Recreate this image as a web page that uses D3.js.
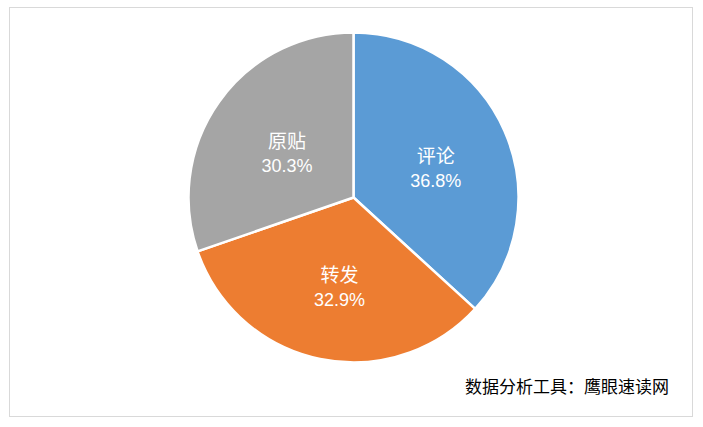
<!DOCTYPE html>
<html><head><meta charset="utf-8">
<script src="https://cdn.jsdelivr.net/npm/d3@7"></script>
<style>
html,body{margin:0;padding:0;background:#fff;}
svg{display:block;}
</style></head>
<body>
<svg id="chart" width="703" height="427"></svg>
<script>
const categories = ["评论", "转发", "原贴"];
const values = [36.8, 32.9, 30.3];
const colors = ["#5B9BD5", "#ED7D31", "#A5A5A5"];
const footnote = "数据分析工具：鹰眼速读网";

const svg = d3.select("#chart");
svg.append("rect").attr("x", 9.5).attr("y", 7.5).attr("width", 683).attr("height", 409)
  .attr("fill", "#fff").attr("stroke", "#d9d9d9").attr("stroke-width", 1);

const cx = 353.5, cy = 197.5, r = 165;
const g = svg.append("g").attr("transform", `translate(${cx},${cy})`);
const pie = d3.pie().sort(null).value(d => d)(values);
const arc = d3.arc().innerRadius(0).outerRadius(r);
g.selectAll("path").data(pie).join("path")
  .attr("d", arc)
  .attr("fill", (d, i) => colors[i])
  .attr("stroke", "#fff").attr("stroke-width", 2.5).attr("stroke-linejoin", "round");

const labelArc = d3.arc().innerRadius(86).outerRadius(86);
g.selectAll("text.lbl").data(pie).join("text")
  .attr("class", "lbl")
  .attr("text-anchor", "middle")
  .attr("fill", "#fff")
  .attr("transform", d => {
    const [x, y] = labelArc.centroid(d);
    return `translate(${x + 3.5},${y})`;
  })
  .each(function (d, i) {
    const t = d3.select(this);
    t.append("tspan").attr("x", 0).attr("y", 0)
      .style("font-family", "'Noto Sans CJK SC', sans-serif").style("font-size", "19px")
      .text(categories[i]);
    t.append("tspan").attr("x", 0).attr("y", 24)
      .style("font-family", "'Liberation Sans', Arial, sans-serif").style("font-size", "18px")
      .text(values[i].toFixed(1) + "%");
  });

svg.append("text").attr("x", 465).attr("y", 393)
  .style("font-family", "'Noto Sans CJK SC', sans-serif").style("font-size", "17px")
  .attr("fill", "#000").text(footnote);
</script>
</body></html>
